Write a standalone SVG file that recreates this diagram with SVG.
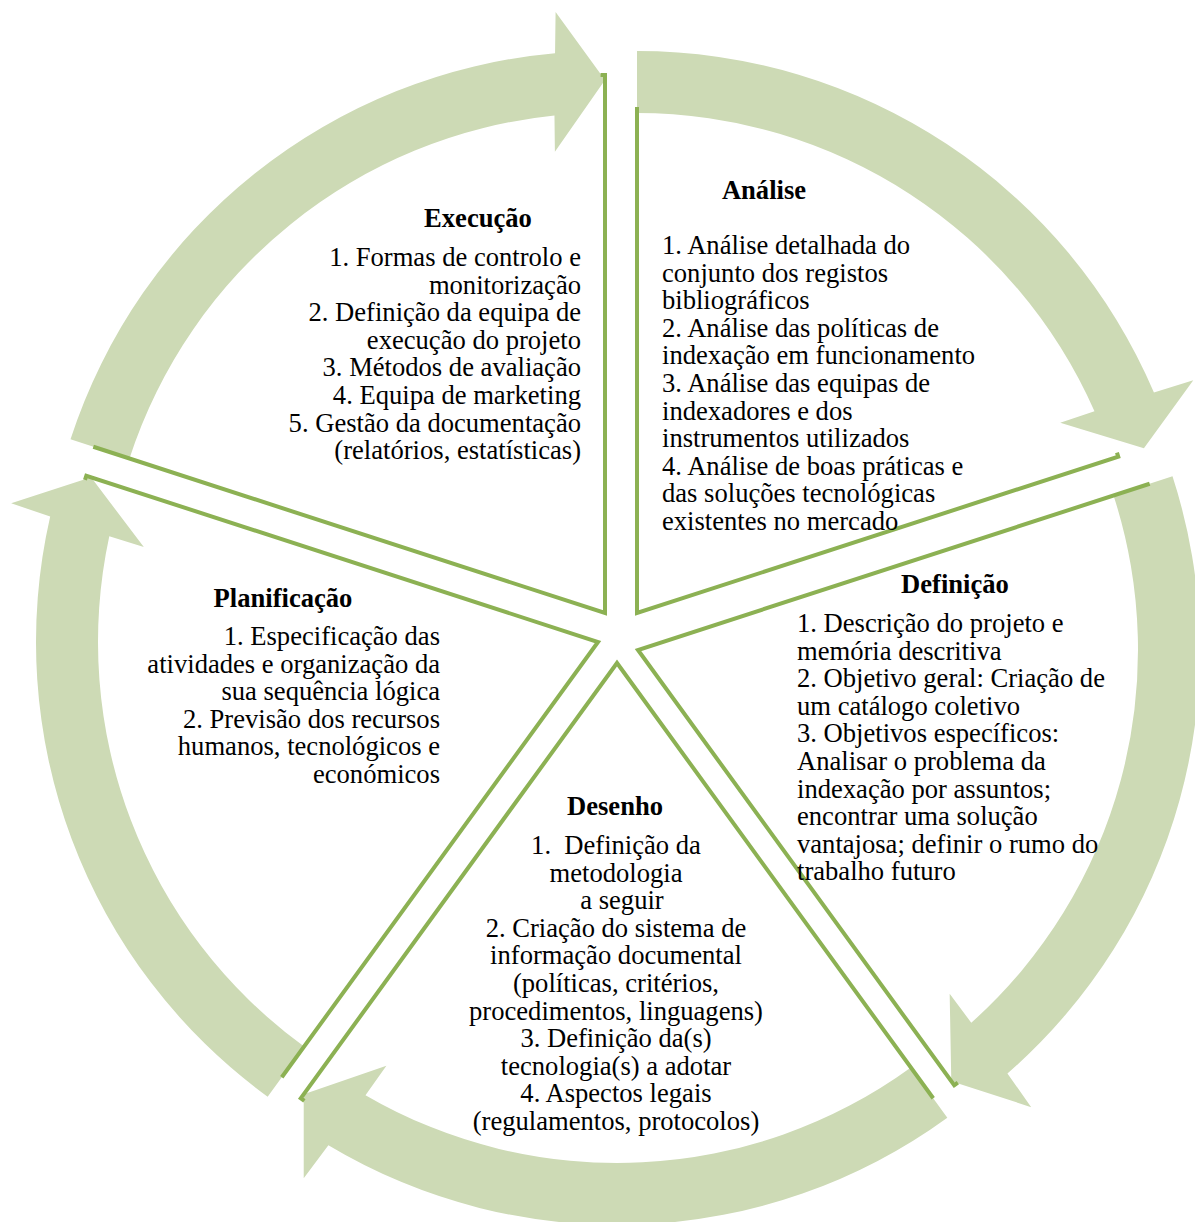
<svg xmlns="http://www.w3.org/2000/svg" width="1195" height="1222" viewBox="0 0 1195 1222">
<style>
.arrow{fill:#CDDAB5;stroke:none}
.edge{fill:none;stroke:#8CB153;stroke-width:4;stroke-linejoin:miter;stroke-miterlimit:10}
.t{font-family:"Liberation Serif","Times New Roman",serif;font-size:26.6px;fill:#000}
.h{font-family:"Liberation Serif","Times New Roman",serif;font-size:26.6px;font-weight:bold;fill:#000}
.r{text-anchor:end}
.c{text-anchor:middle}
</style>
<defs>
<path id="arrow" d="M562,0 A562,562 0 0 1 220.49,516.94 L232.70,556.29 L164.71,506.91 L190.20,423.22 L201.78,457.48 A500,500 0 0 0 500,0 Z"/>
<path id="wedge" d="M538,0 L0,0 L166.25,511.67 A538,538 0 0 0 170.46,510.31"/>
<path id="wedgeS" d="M506,0 L0,0 L156.36,481.24 A506,506 0 0 0 160.32,479.96"/>
</defs>
<rect width="1195" height="1222" fill="#fff"/>
<g id="connectors">
<use href="#arrow" class="arrow" transform="translate(605,613) rotate(198)"/>
<use href="#arrow" class="arrow" transform="translate(637,613) rotate(270)"/>
<use href="#arrow" class="arrow" transform="translate(638,650) rotate(342)"/>
<use href="#arrow" class="arrow" transform="translate(617,663) rotate(54)"/>
<use href="#arrow" class="arrow" transform="translate(598,642) rotate(126)"/>
</g>
<g id="execucao">
<use href="#wedge" class="edge" transform="translate(605,613) rotate(198)"/>
<text class="h c" x="478" y="227">Execução</text>
<text class="t r"><tspan x="581" y="266">1. Formas de controlo e</tspan><tspan x="581" y="293.6">monitorização</tspan><tspan x="581" y="321.2">2. Definição da equipa de</tspan><tspan x="581" y="348.8">execução do projeto</tspan><tspan x="581" y="376.4">3. Métodos de avaliação</tspan><tspan x="581" y="404">4. Equipa de marketing</tspan><tspan x="581" y="431.6">5. Gestão da documentação</tspan><tspan x="581" y="459.2">(relatórios, estatísticas)</tspan></text>
</g>
<g id="analise">
<use href="#wedgeS" class="edge" transform="translate(637,613) rotate(270)"/>
<text class="h c" x="764" y="199">Análise</text>
<text class="t"><tspan x="662" y="254">1. Análise detalhada do</tspan><tspan x="662" y="281.6">conjunto dos registos</tspan><tspan x="662" y="309.2">bibliográficos</tspan><tspan x="662" y="336.8">2. Análise das políticas de</tspan><tspan x="662" y="364.4">indexação em funcionamento</tspan><tspan x="662" y="392">3. Análise das equipas de</tspan><tspan x="662" y="419.6">indexadores e dos</tspan><tspan x="662" y="447.2">instrumentos utilizados</tspan><tspan x="662" y="474.8">4. Análise de boas práticas e</tspan><tspan x="662" y="502.4">das soluções tecnológicas</tspan><tspan x="662" y="530">existentes no mercado</tspan></text>
</g>
<g id="definicao">
<use href="#wedge" class="edge" transform="translate(638,650) rotate(342)"/>
<text class="h c" x="955" y="593">Definição</text>
<text class="t"><tspan x="797" y="632">1. Descrição do projeto e</tspan><tspan x="797" y="659.6">memória descritiva</tspan><tspan x="797" y="687.2">2. Objetivo geral: Criação de</tspan><tspan x="797" y="714.8">um catálogo coletivo</tspan><tspan x="797" y="742.4">3. Objetivos específicos:</tspan><tspan x="797" y="770">Analisar o problema da</tspan><tspan x="797" y="797.6">indexação por assuntos;</tspan><tspan x="797" y="825.2">encontrar uma solução</tspan><tspan x="797" y="852.8">vantajosa; definir o rumo do</tspan><tspan x="797" y="880.4">trabalho futuro</tspan></text>
</g>
<g id="desenho">
<use href="#wedge" class="edge" transform="translate(617,663) rotate(54)"/>
<text class="h c" x="615" y="815">Desenho</text>
<text class="t c" xml:space="preserve"><tspan x="616" y="854">1.  Definição da</tspan><tspan x="616" y="881.6">metodologia</tspan><tspan x="622" y="909.2">a seguir</tspan><tspan x="616" y="936.8">2. Criação do sistema de</tspan><tspan x="616" y="964.4">informação documental</tspan><tspan x="616" y="992">(políticas, critérios,</tspan><tspan x="616" y="1019.6">procedimentos, linguagens)</tspan><tspan x="616" y="1047.2">3. Definição da(s)</tspan><tspan x="616" y="1074.8">tecnologia(s) a adotar</tspan><tspan x="616" y="1102.4">4. Aspectos legais</tspan><tspan x="616" y="1130">(regulamentos, protocolos)</tspan></text>
</g>
<g id="planificacao">
<use href="#wedge" class="edge" transform="translate(598,642) rotate(126)"/>
<text class="h c" x="283" y="607">Planificação</text>
<text class="t r"><tspan x="440" y="645">1. Especificação das</tspan><tspan x="440" y="672.6">atividades e organização da</tspan><tspan x="440" y="700.2">sua sequência lógica</tspan><tspan x="440" y="727.8">2. Previsão dos recursos</tspan><tspan x="440" y="755.4">humanos, tecnológicos e</tspan><tspan x="440" y="783">económicos</tspan></text>
</g>
</svg>
